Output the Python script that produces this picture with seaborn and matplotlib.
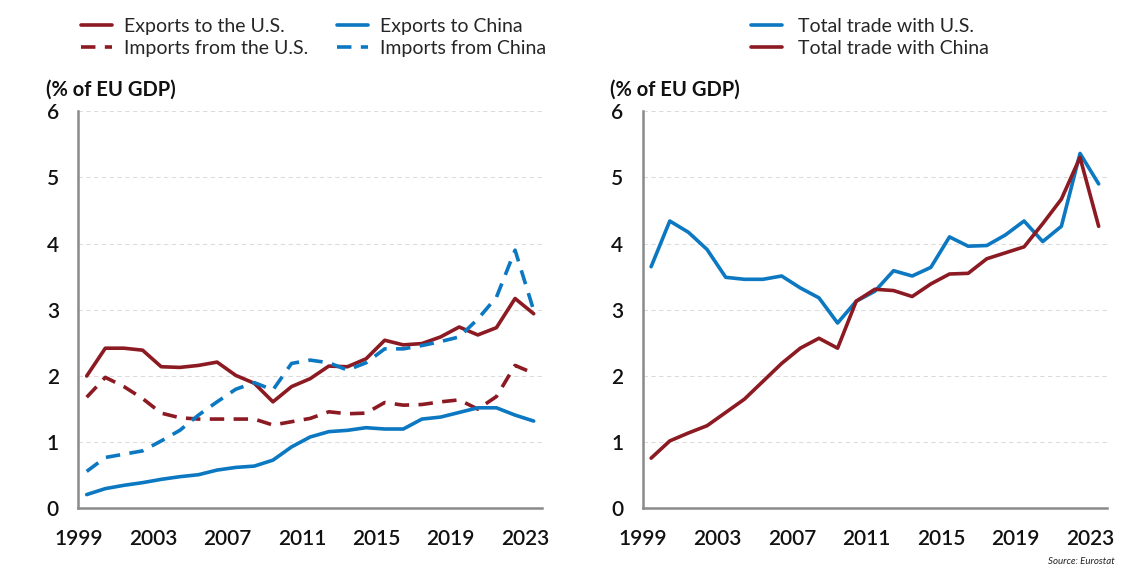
import numpy as np
import pandas as pd
import seaborn as sns
import matplotlib.pyplot as plt
from matplotlib.lines import Line2D

# Data: EU trade as % of EU GDP
years = list(range(1999, 2024))

exports_us = [2.00, 2.42, 2.42, 2.39, 2.14, 2.13, 2.16, 2.21, 2.01, 1.89, 1.61, 1.84, 1.96,
              2.15, 2.14, 2.26, 2.54, 2.47, 2.49, 2.59, 2.74, 2.62, 2.73, 3.17, 2.94]
imports_us = [1.68, 1.98, 1.84, 1.66, 1.44, 1.37, 1.35, 1.35, 1.35, 1.35, 1.26, 1.31, 1.36,
              1.46, 1.43, 1.44, 1.60, 1.56, 1.57, 1.61, 1.64, 1.50, 1.69, 2.16, 2.04]
exports_cn = [0.21, 0.30, 0.35, 0.39, 0.44, 0.48, 0.51, 0.58, 0.62, 0.64, 0.73, 0.93, 1.08,
              1.16, 1.18, 1.22, 1.20, 1.20, 1.35, 1.38, 1.45, 1.52, 1.52, 1.41, 1.32]
imports_cn = [0.56, 0.77, 0.82, 0.87, 1.02, 1.18, 1.41, 1.61, 1.80, 1.90, 1.79, 2.19, 2.24,
              2.20, 2.09, 2.20, 2.41, 2.41, 2.46, 2.52, 2.59, 2.86, 3.19, 3.90, 2.99]

total_us = [3.65, 4.34, 4.17, 3.91, 3.49, 3.46, 3.46, 3.51, 3.33, 3.18, 2.80, 3.13, 3.28,
            3.59, 3.51, 3.64, 4.10, 3.96, 3.97, 4.13, 4.34, 4.03, 4.26, 5.36, 4.90]
total_cn = [0.76, 1.02, 1.14, 1.25, 1.45, 1.65, 1.92, 2.19, 2.42, 2.57, 2.42, 3.13, 3.31,
            3.29, 3.20, 3.39, 3.54, 3.55, 3.77, 3.86, 3.95, 4.30, 4.67, 5.30, 4.26]

tick_years = [1999, 2003, 2007, 2011, 2015, 2019, 2023]
y_ticks = [0, 1, 2, 3, 4, 5, 6]

RED = '#8c1a22'
BLUE = '#0b78c1'
GREY = '#8a8a8a'

sns.set_style('white')
plt.rcParams['font.family'] = ['Lato', 'DejaVu Sans']

df = pd.DataFrame({
    'year': years,
    'Exports to the U.S.': exports_us,
    'Imports from the U.S.': imports_us,
    'Exports to China': exports_cn,
    'Imports from China': imports_cn,
    'Total trade with U.S.': total_us,
    'Total trade with China': total_cn,
})

fig = plt.figure(figsize=(11.4, 5.76), dpi=100)
ax1 = fig.add_axes([0.0687, 0.1172, 0.4068, 0.690])
ax2 = fig.add_axes([0.5638, 0.1172, 0.4073, 0.690])

lw = 2.6
dash = (0, (4, 2.6))

left_series = [
    ('Exports to the U.S.', RED, '-'),
    ('Imports from the U.S.', RED, dash),
    ('Exports to China', BLUE, '-'),
    ('Imports from China', BLUE, dash),
]
for name, col, ls in left_series:
    sns.lineplot(data=df, x='year', y=name, ax=ax1, color=col, linestyle=ls, linewidth=lw)

right_series = [
    ('Total trade with U.S.', BLUE, '-'),
    ('Total trade with China', RED, '-'),
]
for name, col, ls in right_series:
    sns.lineplot(data=df, x='year', y=name, ax=ax2, color=col, linestyle=ls, linewidth=lw)

for ax in (ax1, ax2):
    ax.set_xlim(1998.55, 2023.45)
    ax.set_ylim(0, 6)
    ax.set_xticks([y - 0.45 for y in tick_years])
    ax.set_xticklabels([str(y) for y in tick_years])
    ax.set_yticks(y_ticks)
    ax.set_yticklabels([str(v) for v in y_ticks])
    ax.set_xlabel('')
    ax.set_ylabel('')
    for v in y_ticks[1:]:
        ax.axhline(v, color='#dcdcdc', linewidth=0.8, linestyle=(0, (4, 3)), zorder=0)
    ax.spines['top'].set_visible(False)
    ax.spines['right'].set_visible(False)
    ax.spines['left'].set_color(GREY)
    ax.spines['bottom'].set_color(GREY)
    ax.spines['left'].set_linewidth(1.8)
    ax.spines['bottom'].set_linewidth(1.8)
    ax.tick_params(axis='x', length=6, width=1.6, color=GREY, pad=9,
                   labelsize=15, labelcolor='#111111')
    ax.tick_params(axis='y', length=0, pad=14, labelsize=15, labelcolor='#111111')
    for lab in ax.get_xticklabels() + ax.get_yticklabels():
        lab.set_fontweight('semibold')
    ax.text(-0.07, 1.055, '(% of EU GDP)', transform=ax.transAxes, fontsize=14.5,
            fontweight='bold', color='#111111', ha='left', va='center')

# legends
h_left = [Line2D([], [], color=c, linestyle=ls, linewidth=lw) for _, c, ls in left_series]
fig.legend(h_left, [n for n, _, _ in left_series], ncol=2, frameon=False,
           loc='upper left', bbox_to_anchor=(81 / 1140, 1 - 18 / 576),
           fontsize=14, handlelength=1.6, handletextpad=0.6,
           columnspacing=1.5, labelspacing=0.25, borderpad=0, borderaxespad=0)
h_right = [Line2D([], [], color=c, linestyle=ls, linewidth=lw) for _, c, ls in right_series]
fig.legend(h_right, [n for n, _, _ in right_series], ncol=1, frameon=False,
           loc='upper left', bbox_to_anchor=(751 / 1140, 1 - 18 / 576),
           fontsize=14, handlelength=1.6, handletextpad=0.8,
           labelspacing=0.25, borderpad=0, borderaxespad=0)

fig.text(0.978, 0.025, 'Source: Eurostat', ha='right', va='center',
         fontsize=7, style='italic', color='#222222')

fig.savefig('out.png', dpi=100)
